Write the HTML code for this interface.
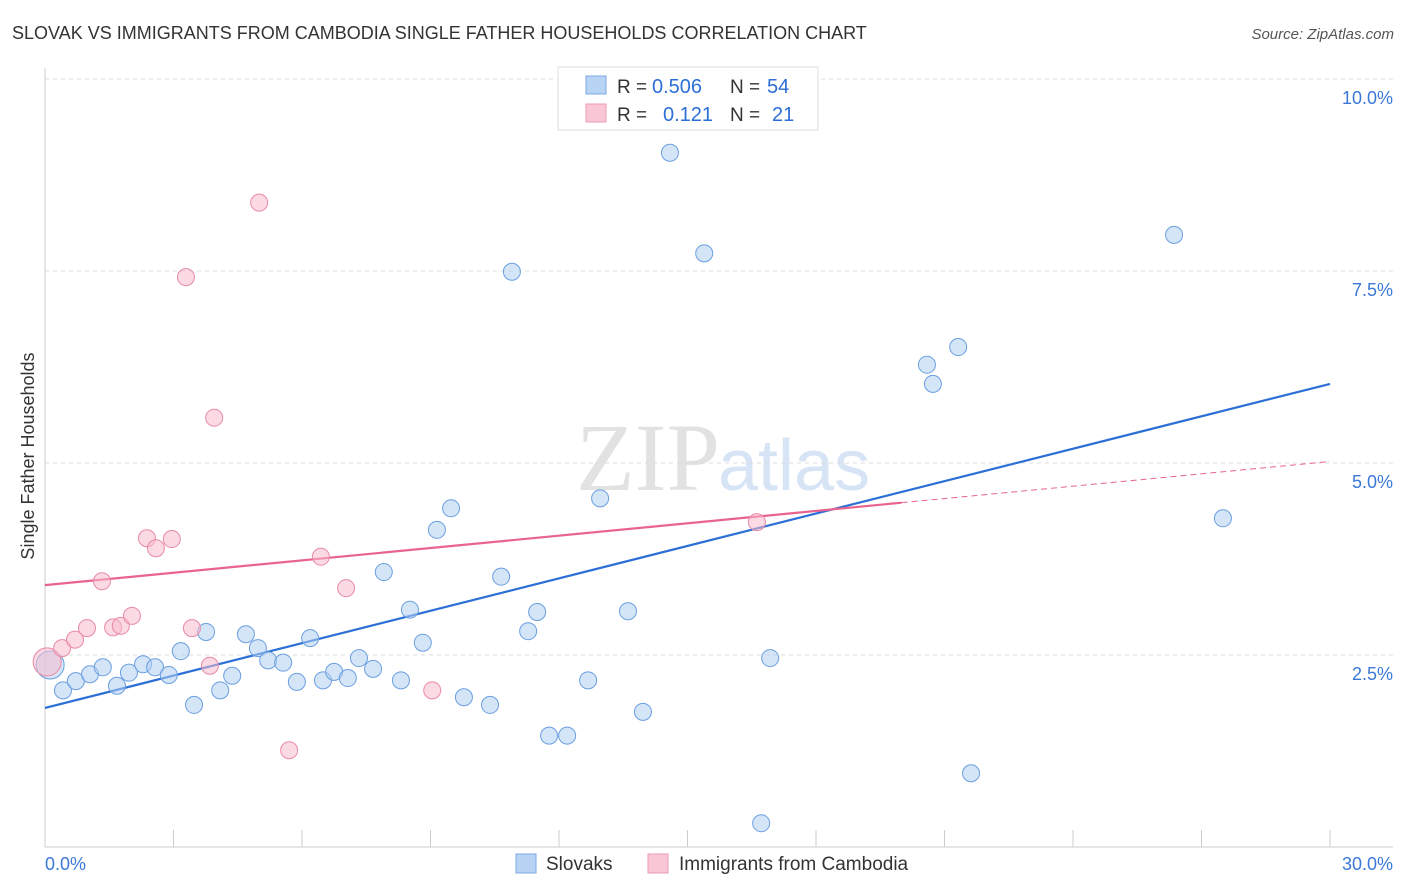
<!DOCTYPE html>
<html><head><meta charset="utf-8"><style>
body{margin:0;background:#fff;font-family:"Liberation Sans",sans-serif;}
svg{display:block}
</style></head><body>
<svg id="chart" width="1406" height="892" xmlns="http://www.w3.org/2000/svg">
<text x="12" y="39" font-size="18" fill="#333">SLOVAK VS IMMIGRANTS FROM CAMBODIA SINGLE FATHER HOUSEHOLDS CORRELATION CHART</text>
<text x="1394" y="39" font-size="15" fill="#555" font-style="italic" text-anchor="end">Source: ZipAtlas.com</text>
<text x="720" y="490" font-size="96" fill="#e2e2e2" text-anchor="end" font-family="Liberation Serif,serif">ZIP</text>
<text x="718" y="490" font-size="72" fill="#d6e4f5">atlas</text>
<text transform="translate(34,456) rotate(-90)" font-size="18" fill="#333" text-anchor="middle">Single Father Households</text>
<g id="grid"></g><g id="trends"></g><g id="pts"></g>
<g>
<rect x="558" y="67" width="260" height="63" fill="#fff" stroke="#ddd"/>
<rect x="586" y="76" width="20" height="18" fill="#b9d3f4" stroke="#7aa8e6"/>
<rect x="586" y="104" width="20" height="18" fill="#f9c6d5" stroke="#eb9ab3"/>
<text x="617" y="93" font-size="19" fill="#333">R =</text>
<text x="652" y="93" font-size="20" fill="#2c6fd6">0.506</text>
<text x="730" y="93" font-size="19" fill="#333">N =</text>
<text x="767" y="93" font-size="20" fill="#2c6fd6">54</text>
<text x="617" y="121" font-size="19" fill="#333">R =</text>
<text x="663" y="121" font-size="20" fill="#2c6fd6">0.121</text>
<text x="730" y="121" font-size="19" fill="#333">N =</text>
<text x="772" y="121" font-size="20" fill="#2c6fd6">21</text>
</g>
<g>
<rect x="516" y="854" width="20" height="19" fill="#b9d3f4" stroke="#7aa8e6"/>
<text x="546" y="870" font-size="19" fill="#333">Slovaks</text>
<rect x="648" y="854" width="20" height="19" fill="#f9c6d5" stroke="#eb9ab3"/>
<text x="679" y="870" font-size="19" fill="#333">Immigrants from Cambodia</text>
</g>
</svg>
<script>
const blueX=[0.12,0.42,0.72,1.05,1.35,1.68,1.96,2.29,2.57,2.89,3.17,3.48,3.76,4.09,4.37,4.69,4.97,5.21,5.56,5.88,6.19,6.49,6.75,7.07,7.33,7.66,7.91,8.31,8.52,8.82,9.15,9.48,9.78,10.39,10.65,10.90,11.28,11.49,11.77,12.19,12.68,12.96,13.61,13.96,14.59,15.39,16.72,16.93,20.59,20.73,21.32,21.62,26.36,27.50];
const blueY=[2.37,2.04,2.16,2.25,2.34,2.10,2.27,2.38,2.34,2.24,2.55,1.85,2.80,2.04,2.23,2.77,2.59,2.43,2.40,2.15,2.72,2.17,2.28,2.20,2.46,2.32,3.58,2.17,3.09,2.66,4.13,4.41,1.95,1.85,3.52,7.49,2.81,3.06,1.45,1.45,2.17,4.54,3.07,1.76,9.04,7.73,0.31,2.46,6.28,6.03,6.51,0.96,7.97,4.28];
const pinkX=[0.05,0.40,0.70,0.98,1.33,1.59,1.77,2.03,2.38,2.59,2.96,3.29,3.43,3.85,3.95,5.00,5.70,6.44,7.03,9.04,16.62];
const pinkY=[2.41,2.59,2.70,2.85,3.46,2.86,2.88,3.01,4.02,3.89,4.01,7.42,2.85,2.36,5.59,8.39,1.26,3.78,3.37,2.04,4.23];
const blueTrend=[1.81,6.03];
const pinkTrend=[3.41,5.02];
const pinkSolidEnd=20;
const yTicks=[2.5,5.0,7.5,10.0];
const yTickLabels=["2.5%","5.0%","7.5%","10.0%"];
const xTicks=[0,3,6,9,12,15,18,21,24,27,30];
const NS="http://www.w3.org/2000/svg";
const sx=v=>45+v*42.833, sy=v=>847-v*76.8;
function mk(p,t,a){const e=document.createElementNS(NS,t);for(const k in a)e.setAttribute(k,a[k]);p.appendChild(e);return e;}
const grid=document.getElementById('grid');
yTicks.forEach((t,i)=>{
 const l=mk(grid,'line',{x1:45,x2:1393,y1:sy(t),y2:sy(t),stroke:'#ddd','stroke-dasharray':'4,4'});
 
 
 const tx=mk(grid,'text',{x:1393,y:sy(t)+25,'font-size':18,fill:'#3b78d8','text-anchor':'end'});
 tx.textContent=yTickLabels[i];
 
 
});
const ax=mk(grid,'line',{x1:45,x2:1393,y1:847,y2:847,stroke:'#ccc'});


const ay=mk(grid,'line',{x1:45,x2:45,y1:68,y2:847,stroke:'#ccc'});


xTicks.forEach(t=>{
 const l=mk(grid,'line',{x1:sx(t),x2:sx(t),y1:830,y2:847,stroke:'#ccc'});
 
 
});
const x0=mk(grid,'text',{x:45,y:870,'font-size':18,fill:'#3b78d8'});x0.textContent='0.0%';


const x1=mk(grid,'text',{x:1393,y:870,'font-size':18,fill:'#3b78d8','text-anchor':'end'});x1.textContent='30.0%';


const pts=document.getElementById('pts');
function dots(X,Y,fill,stroke,name){X.forEach((x,i)=>{
 const c=mk(pts,'circle',{cx:sx(x),cy:sy(Y[i]),r:i===0?14:8.5,fill:fill,'fill-opacity':0.55,stroke:stroke,'stroke-width':1});
 
 
});}
dots(blueX,blueY,'#b3cff3','#6a9fe0','slovak-point');
dots(pinkX,pinkY,'#f7bccd','#e88aa6','cambodia-point');
const tr=document.getElementById('trends');
const bl=mk(tr,'line',{x1:sx(0),y1:sy(blueTrend[0]),x2:sx(30),y2:sy(blueTrend[1]),stroke:'#2c6fd6','stroke-width':2.2});


const pe=pinkTrend[0]+(pinkTrend[1]-pinkTrend[0])*pinkSolidEnd/30;
const pl=mk(tr,'line',{x1:sx(0),y1:sy(pinkTrend[0]),x2:sx(pinkSolidEnd),y2:sy(pe),stroke:'#e8638e','stroke-width':2.2});


const pd=mk(tr,'line',{x1:sx(pinkSolidEnd),y1:sy(pe),x2:sx(30),y2:sy(pinkTrend[1]),stroke:'#e8638e','stroke-width':1,'stroke-dasharray':'6,4'});


</script>
</body></html>
